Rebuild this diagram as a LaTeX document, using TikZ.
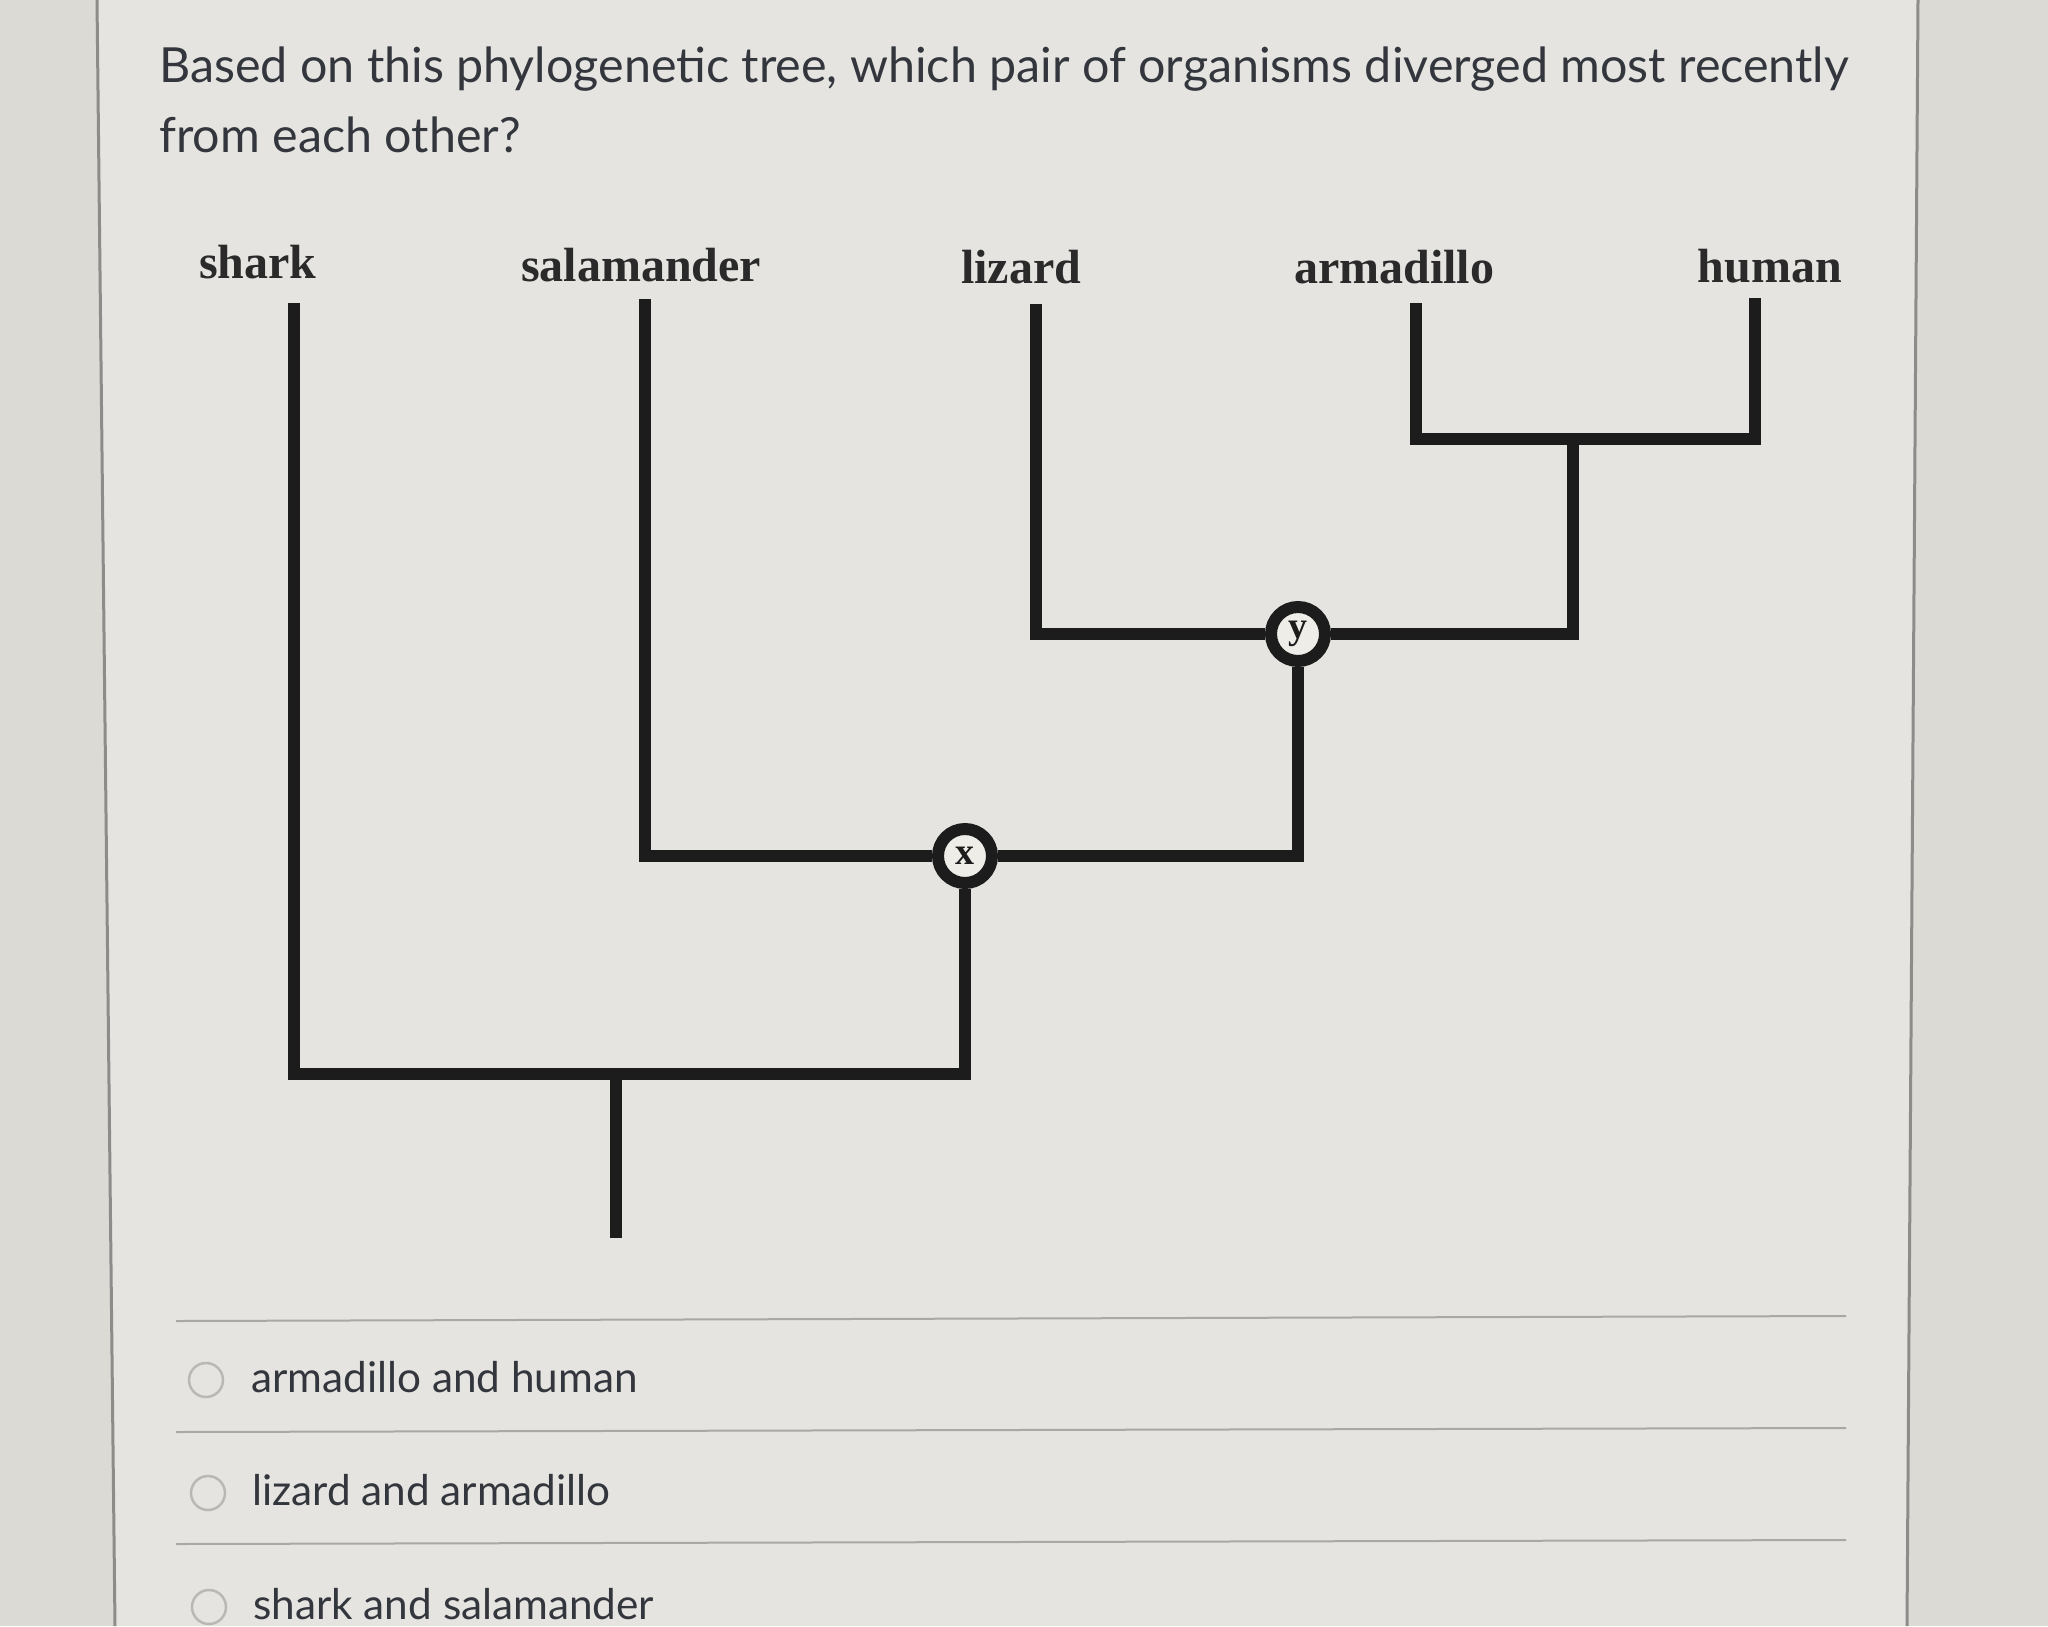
\documentclass[tikz,border=0pt]{standalone}
\usepackage{fontspec}
\setmainfont{Lato}
\newfontfamily\treefont{Liberation Serif}
\begin{document}
\begin{tikzpicture}[x=1pt,y=-1pt,
  branch/.style={line width=12pt, draw=treeline, line join=miter, line cap=butt},
  junc/.style={circle, draw=treeline, line width=12pt, fill=nodefill, minimum size=54pt, inner sep=0pt,
    font=\treefont\bfseries\fontsize{38}{40}\selectfont, text=treeline},
  leaf/.style={anchor=base, font=\treefont\bfseries\fontsize{48}{50}\selectfont, text=labelcol, inner sep=0pt},
  question/.style={anchor=base west, font=\fontsize{48.4}{52}\selectfont, text=textcol, inner sep=0pt},
  option/.style={anchor=base west, font=\fontsize{42.3}{48}\selectfont, text=textcol, inner sep=0pt},
  radio/.style={circle, draw=radiocol, line width=2.5pt, fill=panel, minimum size=34pt, inner sep=0pt},
  sep/.style={draw=sepcol, line width=2pt},
  border/.style={draw=bordercol, line width=3pt}]
\definecolor{treeline}{HTML}{1C1C1C}
\definecolor{nodefill}{HTML}{EEEDE8}
\definecolor{labelcol}{HTML}{2A2A2A}
\definecolor{textcol}{HTML}{33373D}
\definecolor{radiocol}{HTML}{B9B8B4}
\definecolor{sepcol}{HTML}{A9A8A4}
\definecolor{bordercol}{HTML}{8E8C8A}
\definecolor{outside}{HTML}{DCDAD5}
\definecolor{panel}{HTML}{E5E4E0}

% background
\useasboundingbox (0,0) rectangle (2048,1626);
\fill[outside] (0,0) rectangle (2048,1626);
\fill[panel] (97,0) -- (1918,0) -- (1907,1626) -- (115,1626) -- cycle;
\draw[border] (97,0) -- (115,1626);
\draw[border] (1918,0) -- (1907,1626);

% question
\node[question] (q1) at (159,82) {Based on this phylogenetic tree, which pair of organisms diverged most recently};
\node[question] (q2) at (159,152) {from each other?};

% leaf labels
\node[leaf] (shark) at (258,278) {shark};
\node[leaf] (salamander) at (641,281) {salamander};
\node[leaf] (lizard) at (1021,283) {lizard};
\node[leaf] (armadillo) at (1394,283) {armadillo};
\node[leaf] (human) at (1770,282) {human};

% tips and junctions
\coordinate (sharkTip) at (294,303);
\coordinate (salTip) at (645,299);
\coordinate (lizTip) at (1036,304);
\coordinate (armTip) at (1416,303);
\coordinate (humTip) at (1755,298);
\coordinate (rootJ) at (616,1074);
\coordinate (root) at (616,1238);
\coordinate (mamJ) at (1573,439);
\node[junc] (X) at (965,856) {x};
\node[junc] (Y) at (1298,634) {y};

% branches
\draw[branch] (sharkTip) |- (rootJ) -| (X);
\draw[branch] (rootJ) -- (root);
\draw[branch] (salTip) |- (X);
\draw[branch] (X) -| (Y);
\draw[branch] (lizTip) |- (Y);
\draw[branch] (Y) -| (mamJ);
\draw[branch] (armTip) |- (mamJ) -| (humTip);

% separators
\draw[sep] (176,1321) -- (1846,1316);
\draw[sep] (176,1432) -- (1846,1428);
\draw[sep] (176,1544) -- (1846,1540);

% options
\node[radio] (r1) at (206,1380) {};
\node[option] (o1) at (251,1392) {armadillo and human};
\node[radio] (r2) at (208,1493) {};
\node[option] (o2) at (252,1505) {lizard and armadillo};
\node[radio] (r3) at (209,1607) {};
\node[option] (o3) at (253,1619) {shark and salamander};
\end{tikzpicture}
\end{document}
